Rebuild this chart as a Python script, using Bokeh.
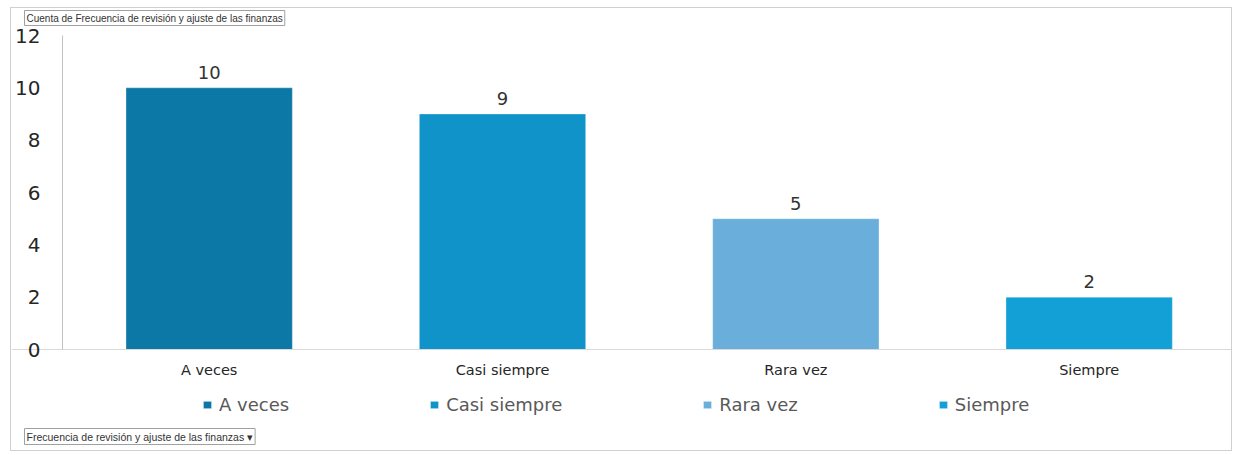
from bokeh.plotting import figure
from bokeh.models import (ColumnDataSource, Range1d, FixedTicker, Legend, LegendItem,
                          LabelSet, Label)
from bokeh.core.properties import value
from bokeh.embed import file_html
from bokeh.resources import INLINE

categories = ["A veces", "Casi siempre", "Rara vez", "Siempre"]
counts = [10, 9, 5, 2]
colors = ["#0B78A5", "#1093C8", "#6AAFDC", "#12A0D7"]
y_ticks = [0, 2, 4, 6, 8, 10, 12]

FONT = "DejaVu Sans"
BTN_FONT = "Liberation Sans"

W, H = 1222, 444
p = figure(width=W, height=H, output_backend="svg", toolbar_location=None,
           x_range=Range1d(-0.1739, 3.992), y_range=Range1d(-3.936, 13.032),
           min_border_left=0, min_border_right=0, min_border_top=0, min_border_bottom=0)
p.styles = {"border": "1px solid #d0d0d0", "margin-left": "10px", "margin-top": "7px"}
p.outline_line_color = None
p.xgrid.visible = False
p.ygrid.visible = False

xs = [i + 0.5 for i in range(len(categories))]
src = ColumnDataSource(dict(x=xs, top=counts, lbl=[str(c) for c in counts]))

renderers = []
for i, c in enumerate(categories):
    s = ColumnDataSource(dict(x=[xs[i]], top=[counts[i]]))
    r = p.vbar(x="x", top="top", bottom=0, width=0.567, source=s,
               fill_color=colors[i], line_color="white", line_alpha=0.3, line_width=1)
    renderers.append(r)

labels = LabelSet(x="x", y="top", text="lbl", source=src, text_align="center",
                  text_baseline="bottom", y_offset=9, text_font_size="18px",
                  text_color="#333333", text_font=value(FONT))
p.add_layout(labels)

# axes
p.xaxis.fixed_location = 0
p.xaxis.ticker = FixedTicker(ticks=xs)
p.xaxis.major_label_overrides = {x: c for x, c in zip(xs, categories)}
p.xaxis.major_tick_line_color = None
p.xaxis.minor_tick_line_color = None
p.xaxis.major_tick_out = 0
p.xaxis.major_tick_in = 0
p.xaxis.axis_line_color = "#d9d9d9"
p.xaxis.major_label_text_font_size = "14.5px"
p.xaxis.major_label_text_color = "#262626"
p.xaxis.major_label_text_font = FONT
p.xaxis.major_label_standoff = 12

p.yaxis.fixed_location = 0
p.yaxis.bounds = (0, 12)
p.yaxis.ticker = FixedTicker(ticks=y_ticks)
p.yaxis.major_tick_line_color = None
p.yaxis.minor_tick_line_color = None
p.yaxis.major_tick_out = 0
p.yaxis.major_tick_in = 0
p.yaxis.axis_line_color = "#c0c0c0"
p.yaxis.major_label_text_font_size = "20px"
p.yaxis.major_label_text_color = "#262626"
p.yaxis.major_label_text_font = FONT
p.yaxis.major_label_standoff = 22

legend = Legend(items=[LegendItem(label=c, renderers=[r]) for c, r in zip(categories, renderers)],
                orientation="horizontal", location=(191, 37), spacing=140,
                padding=0, margin=0, glyph_width=10, glyph_height=9, label_standoff=7,
                label_text_font_size="18px", label_text_color="#595959",
                label_text_font=FONT, border_line_color=None, background_fill_alpha=0)
p.add_layout(legend, "center")

top_btn = Label(x=13, y=427, x_units="screen", y_units="screen",
                text="Cuenta de Frecuencia de revisión y ajuste de las finanzas",
                text_font_size="10px", text_color="#333333", text_font=BTN_FONT,
                border_line_color="#a0a0a0", background_fill_color="white",
                padding=2)
bot_btn = Label(x=13, y=8, x_units="screen", y_units="screen",
                text="Frecuencia de revisión y ajuste de las finanzas ▾",
                text_font_size="10.5px", text_color="#333333", text_font=BTN_FONT,
                border_line_color="#a0a0a0", background_fill_color="white",
                padding=2)
p.add_layout(top_btn)
p.add_layout(bot_btn)

open("out.html", "w").write(file_html(p, INLINE))
